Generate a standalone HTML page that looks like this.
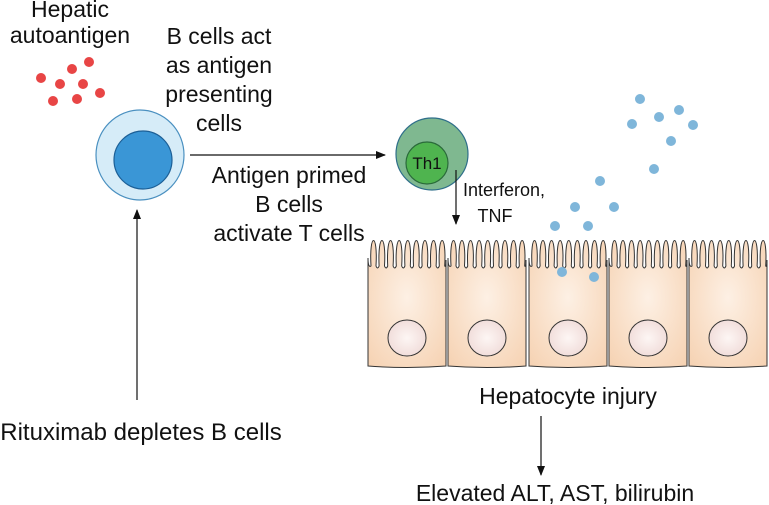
<!DOCTYPE html>
<html><head><meta charset="utf-8"><style>
html,body{margin:0;padding:0;background:#fff;}
svg{display:block;}
text{font-family:"Liberation Sans",Arial,sans-serif;fill:#111;}
</style></head><body>
<svg width="769" height="505" viewBox="0 0 769 505" xmlns="http://www.w3.org/2000/svg">
<defs>
<marker id="ah" markerWidth="10" markerHeight="8" refX="9" refY="4" orient="auto" markerUnits="userSpaceOnUse"><path d="M0,0 L10,4 L0,8 Z" fill="#111"/></marker>
<radialGradient id="cg" cx="0.5" cy="0.45" r="0.7"><stop offset="0" stop-color="#fdf0e4"/><stop offset="1" stop-color="#f6d3b4"/></radialGradient>
<radialGradient id="ng" cx="0.5" cy="0.5" r="0.6"><stop offset="0" stop-color="#fdf6f4"/><stop offset="1" stop-color="#efd9d6"/></radialGradient>
<g id="cell">
<path d="M0,104 L0,-4 Q0,6 3,4 C1,-30 10,-30 8,4 Q9.5,8 11.1,4 C9.5,-30 18.5,-30 16.5,4 Q18,8 19.7,4 C18.1,-30 27.1,-30 25.1,4 Q26.6,8 28.3,4 C26.7,-30 35.7,-30 33.7,4 Q35.2,8 36.9,4 C35.3,-30 44.3,-30 42.3,4 Q43.8,8 45.5,4 C43.9,-30 52.9,-30 50.9,4 Q52.4,8 54.1,4 C52.5,-30 61.5,-30 59.5,4 Q61,8 62.7,4 C61.1,-30 70.1,-30 68.1,4 Q69.6,8 71.3,4 C69.7,-30 78.7,-30 76.7,4 Q78,6 78,-2 L78,104 Q39,107 0,104 Z" fill="url(#cg)" stroke="#333" stroke-width="1"/>
<ellipse cx="39" cy="76" rx="19" ry="18" fill="url(#ng)" stroke="#333" stroke-width="1"/>
</g>
</defs>
<use href="#cell" transform="translate(368,262)"/>
<use href="#cell" transform="translate(448,262)"/>
<use href="#cell" transform="translate(529,262)"/>
<use href="#cell" transform="translate(609,262)"/>
<use href="#cell" transform="translate(689,262)"/>
<g fill="#e84545">
<circle cx="41" cy="78" r="5"/><circle cx="72" cy="69" r="5"/><circle cx="89" cy="62" r="5"/><circle cx="60" cy="84" r="5"/><circle cx="83" cy="84" r="5"/><circle cx="100" cy="93" r="5"/><circle cx="53" cy="101" r="5"/><circle cx="77" cy="99" r="5"/>
</g>
<g fill="#7fb6da">
<circle cx="640" cy="99" r="5"/><circle cx="632" cy="124" r="5"/><circle cx="659" cy="117" r="5"/><circle cx="679" cy="110" r="5"/><circle cx="693" cy="125" r="5"/><circle cx="671" cy="141" r="5"/><circle cx="654" cy="169" r="5"/><circle cx="600" cy="181" r="5"/><circle cx="575" cy="207" r="5"/><circle cx="614" cy="207" r="5"/><circle cx="555" cy="226" r="5"/><circle cx="588" cy="226" r="5"/><circle cx="562" cy="272" r="5"/><circle cx="594" cy="277" r="5"/>
</g>
<ellipse cx="140" cy="155" rx="44" ry="45" fill="#d6ecf8" stroke="#4a90c0" stroke-width="1.2"/>
<circle cx="143" cy="160" r="29" fill="#3a96d6" stroke="#1c5f96" stroke-width="1.2"/>
<circle cx="432" cy="154" r="36" fill="#7fb890" stroke="#2f6f8a" stroke-width="1.2"/>
<circle cx="427" cy="163" r="21" fill="#4fb44f" stroke="#2a6a3a" stroke-width="1.2"/>
<text x="427" y="169" font-size="17" text-anchor="middle">Th1</text>
<g stroke="#111" stroke-width="1.2" fill="none" marker-end="url(#ah)">
<line x1="190" y1="155" x2="385" y2="155"/>
<line x1="137" y1="400" x2="137" y2="210"/>
<line x1="456" y1="170" x2="456" y2="224"/>
<line x1="541" y1="416" x2="541" y2="475"/>
</g>
<g font-size="23" text-anchor="middle">
<text x="70" y="17">Hepatic</text>
<text x="70" y="43">autoantigen</text>
<text x="219" y="44">B cells act</text>
<text x="219" y="73">as antigen</text>
<text x="219" y="102">presenting</text>
<text x="219" y="131">cells</text>
<text x="289" y="183">Antigen primed</text>
<text x="289" y="212">B cells</text>
<text x="289" y="241">activate T cells</text>
<text x="141" y="440" font-size="24">Rituximab depletes B cells</text>
<text x="568" y="404">Hepatocyte injury</text>
<text x="555" y="501">Elevated ALT, AST, bilirubin</text>
</g>
<text x="463" y="196" font-size="18">Interferon,</text>
<text x="495" y="222" font-size="18" text-anchor="middle">TNF</text>
</svg>
</body></html>
